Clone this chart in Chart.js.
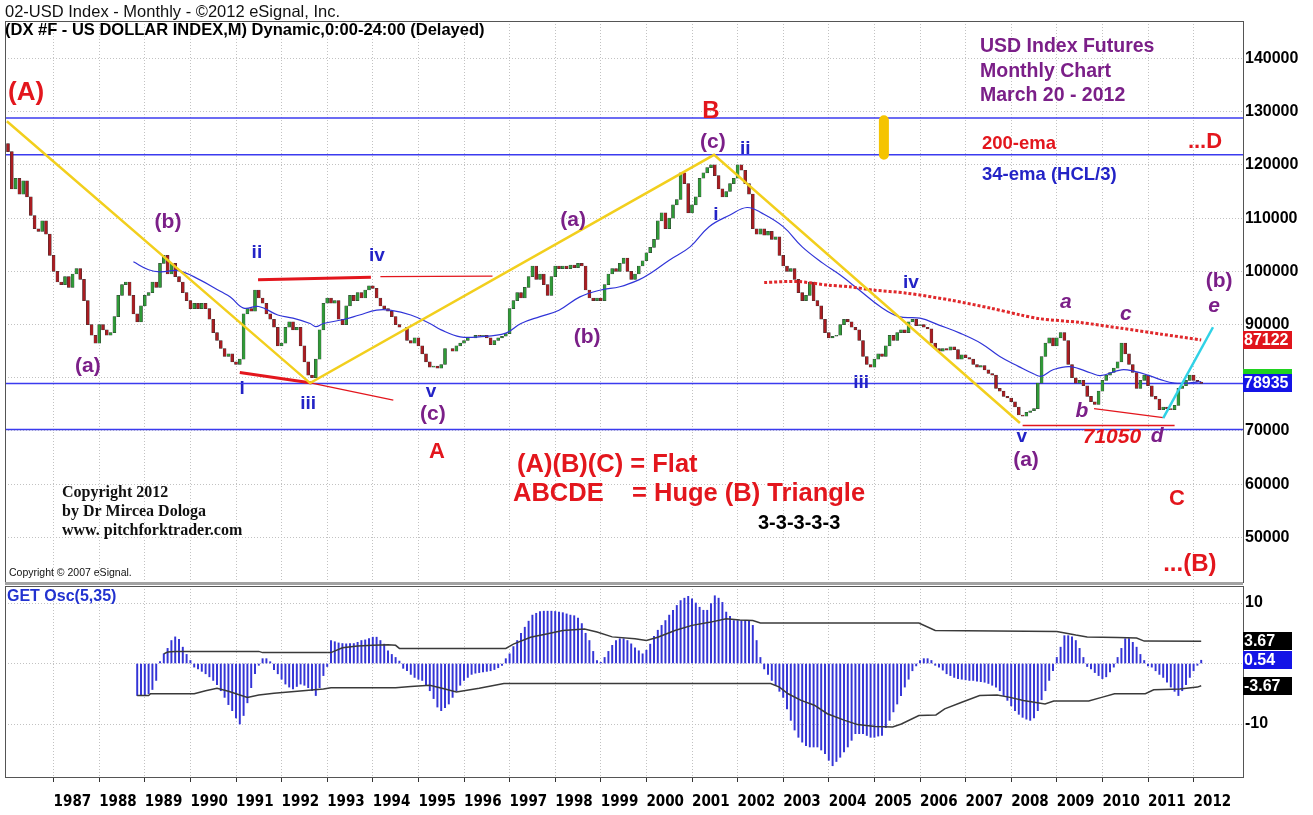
<!DOCTYPE html>
<html>
<head>
<meta charset="utf-8">
<script src="https://cdn.jsdelivr.net/npm/chart.js@4.4.1/dist/chart.umd.min.js"></script>
<style>
  html, body { margin: 0; padding: 0; background: #fff; }
  #marco { position: relative; width: 1313px; height: 815px; overflow: hidden; }
  canvas { position: absolute; left: 0; }
</style>
</head>
<body>
<div id="marco">
  <canvas id="precio" width="1313" height="585" style="top:0"></canvas>
  <canvas id="osc" width="1313" height="230" style="top:585px"></canvas>
</div>
<script>
// Canvas
const cPrecio = document.getElementById('precio');
const cOsc = document.getElementById('osc');

// Eje X: mes 0 = enero 1986
const anios = [1987, 1988, 1989, 1990, 1991, 1992, 1993, 1994, 1995, 1996, 1997, 1998, 1999,
               2000, 2001, 2002, 2003, 2004, 2005, 2006, 2007, 2008, 2009, 2010, 2011, 2012];
const ticksAnios = anios.map(a => (a - 1986) * 12);
const ticksPrecio = [50, 60, 70, 80, 90, 100, 110, 120, 130, 140];
const ticksOsc = [-10, 0, 10];

// Cierres mensuales (indice)
const aperturaInicial = 124.0;
const cierres = [
  122.5, 115.5, 117.5, 114.5, 117.0, 114.0, 110.5, 108.0, 107.5, 109.5, 107.0, 103.0, // 1986
  100.0, 98.0, 97.5, 99.0, 97.0, 99.5, 100.5, 98.5, 94.5, 90.0, 88.0, 86.5,           // 1987
  90.0, 89.0, 88.0, 88.5, 91.5, 95.5, 97.5, 98.0, 95.5, 92.0, 90.5, 93.5,             // 1988
  95.5, 96.0, 98.0, 97.0, 101.5, 103.0, 99.5, 101.5, 99.0, 98.0, 96.0, 94.5,          // 1989
  93.0, 94.0, 93.0, 94.0, 93.0, 91.0, 88.5, 87.0, 85.5, 84.0, 84.5, 83.0,             // 1990
  82.5, 83.5, 92.0, 93.0, 92.5, 96.5, 95.0, 94.0, 92.0, 91.0, 89.5, 86.0,             // 1991
  86.5, 89.5, 90.5, 89.0, 89.5, 86.0, 83.0, 80.5, 80.0, 83.5, 89.0, 94.0,             // 1992
  95.0, 94.0, 94.5, 91.0, 90.0, 93.5, 95.5, 94.5, 96.0, 95.0, 96.5, 97.3,             // 1993
  96.8, 95.0, 93.5, 93.0, 92.5, 91.5, 90.0, 89.5, 89.5, 87.0, 86.5, 87.5,             // 1994
  86.0, 84.5, 83.0, 82.0, 82.2, 81.8, 82.5, 85.5, 85.5, 85.0, 86.0, 86.5,             // 1995
  87.0, 87.5, 87.5, 88.0, 87.8, 88.0, 87.5, 86.2, 87.0, 87.5, 87.8, 88.3,             // 1996
  93.0, 94.5, 96.0, 95.0, 97.0, 99.0, 101.0, 98.5, 99.5, 97.5, 95.5, 99.0,            // 1997
  101.0, 100.5, 101.0, 100.5, 101.2, 100.7, 101.5, 101.0, 96.5, 95.0, 94.5, 95.0,     // 1998
  94.5, 97.5, 99.5, 100.5, 100.0, 101.5, 102.5, 100.0, 98.5, 99.5, 101.0, 102.0,      // 1999
  103.5, 104.5, 106.0, 109.5, 111.0, 108.0, 110.0, 112.5, 113.5, 118.5, 116.5, 111.0, // 2000
  112.5, 114.0, 117.5, 118.5, 119.5, 120.0, 118.0, 115.5, 114.0, 115.0, 116.5, 117.5, // 2001
  120.0, 119.0, 116.5, 114.5, 108.0, 107.0, 108.0, 106.8, 107.5, 106.0, 106.5, 103.0, // 2002
  101.0, 100.0, 100.5, 98.5, 96.0, 94.5, 95.5, 98.0, 94.5, 93.5, 91.0, 88.5,          // 2003
  87.5, 87.8, 88.0, 90.0, 91.0, 90.5, 89.5, 89.0, 87.0, 84.0, 82.5, 82.0,             // 2004
  83.5, 84.5, 84.0, 86.0, 88.0, 87.0, 88.5, 89.0, 88.5, 90.5, 91.0, 89.8,             // 2005
  90.0, 89.5, 89.2, 86.5, 85.5, 85.0, 85.5, 85.2, 85.8, 85.3, 83.5, 84.3,             // 2006
  83.8, 83.5, 82.5, 82.0, 82.3, 81.5, 80.8, 80.5, 78.0, 77.5, 76.5, 76.2,             // 2007
  75.5, 74.5, 73.0, 72.8, 73.5, 73.8, 74.2, 79.0, 84.0, 86.5, 87.5, 86.0,             // 2008
  87.5, 88.5, 87.0, 82.5, 80.0, 79.0, 79.5, 78.5, 76.5, 75.5, 75.0, 77.5,             // 2009
  79.5, 80.5, 81.0, 81.8, 83.0, 86.5, 84.5, 82.5, 81.0, 78.0, 79.5, 80.5,             // 2010
  78.5, 76.5, 76.0, 74.0, 74.5, 74.2, 74.0, 74.8, 78.0, 78.5, 79.5, 80.5,             // 2011
  79.5, 79.2, 78.935                                                                  // 2012
];

// 34-ema (HCL/3)
const emaMes = [33, 37, 40, 45, 50.5, 56, 58.5, 62, 66, 71, 75, 79.5, 81, 83, 88, 92.5, 97, 100.5,
  106, 111, 114, 119, 124, 131, 135, 140, 145, 150.5, 156, 161, 166, 169, 174, 179.5, 184.5, 190,
  194.5, 198.5, 204, 209, 214.5, 219, 224, 229.5, 234.5, 240, 245, 250.5, 256, 261, 266, 270, 272,
  275, 279.5, 285, 287.5, 293, 296.5, 300, 303.5, 307, 310.5, 314];
const emaValor = [101.8, 100.3, 99.9, 100.1, 98.4, 96.2, 95.2, 93.1, 93.4, 91.8, 91.2, 90.2, 89.6,
  90.2, 90.9, 91.8, 92.7, 92.7, 91.8, 90.2, 89.0, 87.7, 87.7, 88.4, 90.2, 91.5, 92.7, 95.2, 96.5,
  97.1, 98.4, 99.6, 102.1, 104.6, 108.4, 110.6, 112.0, 110.9, 108.4, 104.6, 101.5, 99.3, 96.5, 93.4,
  91.5, 91.2, 89.9, 88.4, 86.5, 84.0, 82.1, 80.7, 80.3, 81.5, 82.1, 80.9, 80.4, 81.5, 81.2, 80.5,
  79.6, 79.0, 79.0, 79.3];

// 200-ema
const ema200Mes = [199, 207.5, 216, 221.5, 227.5, 236.5, 248, 258.5, 266.5, 271.5, 282, 293, 303.5, 314];
const ema200Valor = [97.9, 98.1, 97.4, 97.1, 96.5, 95.9, 94.6, 93.1, 91.8, 91.1, 90.4, 89.3, 88.2, 87.1];

// Lineas horizontales azules
const nivelesAzules = [128.8, 121.9, 78.935, 70.3];

// Lineas amarillas (A)-B-C
const amarilloMes = [-0.3, 79.5, 185.8, 266.3];
const amarilloValor = [128.2, 79.0, 121.9, 71.5];
const capsulaMes = [230.5, 230.5];
const capsulaValor = [128.4, 121.9];

// Lineas rojas y cian
const rojaBajaMes = [61, 79.9], rojaBajaValor = [81.0, 79.0];
const rojaBajaFinaMes = [79.9, 101.4], rojaBajaFinaValor = [79.0, 75.8];
const rojaAltaMes = [65.8, 95.5], rojaAltaValor = [98.4, 98.9];
const rojaAltaFinaMes = [98, 127.5], rojaAltaFinaValor = [99.0, 99.1];
const rojaBDMes = [285.8, 304], rojaBDValor = [74.2, 72.5];
const roja71050Mes = [267, 307], roja71050Valor = [71.05, 71.05];
const cianMes = [304, 317.1], cianValor = [72.4, 89.5];

// GET Osc(5,35), desde el mes 34
const oscInicio = 34;
const oscValores = [
  -5.3, -5.3, -5.3, -5.0, -4.3, -2.8,
  0.3, 1.6, 2.5, 3.8, 4.4, 4.0, 2.7, 1.5, 0.5,
  -0.6, -0.9, -1.3, -1.7, -2.2, -2.8, -3.5, -4.5, -5.6, -6.8, -7.8, -9.0, -10.0, -8.6, -6.5, -4.0, -1.7, -0.3,
  0.8, 0.8, 0.3,
  -1.0, -1.7, -2.6, -3.4, -3.9, -4.2, -3.8, -3.4, -3.6, -4.0, -4.5, -5.3, -4.0, -2.0, -0.5,
  3.8, 3.6, 3.4, 3.3, 3.25, 3.3, 3.3, 3.5, 3.8, 3.9, 4.1, 4.35, 4.35, 3.8, 3.2, 2.1, 1.5, 1.0, 0.4,
  -0.8, -1.2, -1.8, -2.3, -2.6, -2.8, -3.6, -4.5, -5.8, -7.2, -7.8, -7.3, -6.7, -5.6, -4.5, -3.6,
  -2.8, -2.3, -1.8, -1.6, -1.5, -1.4, -1.3, -1.2, -1.0, -0.7, -0.3,
  0.8, 1.6, 2.8, 3.8, 5.0, 6.0, 7.0, 8.0, 8.3, 8.6, 8.65, 8.65, 8.65, 8.6, 8.5, 8.4, 8.2, 8.0, 7.9,
  7.5, 6.6, 5.0, 3.8, 2.0, 0.5, 0.2, 1.0, 2.0, 3.0, 3.8, 4.1, 4.1, 3.8, 3.25, 2.6, 2.1, 1.6, 2.2,
  3.2, 4.5, 5.5, 6.3, 7.1, 8.0, 8.8, 9.6, 10.4, 10.8, 11.1, 10.7, 10.0, 9.3, 8.8, 8.8, 9.9, 11.2,
  10.8, 10.1, 8.5, 7.8, 7.1, 7.1, 7.1, 7.1, 7.1, 6.3, 3.8, 1.0,
  -0.9, -1.8, -2.8, -3.6, -4.6, -5.6, -7.5, -9.4, -11.0, -12.2, -13.0, -13.6, -13.8, -13.8, -13.8,
  -14.3, -14.9, -16.0, -16.9, -16.2, -15.5, -14.6, -13.8, -12.7, -11.6, -11.6, -11.6, -11.9, -12.2,
  -12.2, -12.0, -11.9, -10.6, -9.4, -8.0, -6.7, -5.3, -3.9, -2.6, -1.2, -0.4,
  0.5, 0.8, 0.8, 0.5,
  -0.3, -0.6, -1.1, -1.7, -2.0, -2.3, -2.5, -2.6, -2.7, -2.8, -2.8, -2.9, -3.0, -3.1, -3.3, -3.6,
  -3.9, -4.5, -5.3, -6.1, -7.0, -7.8, -8.4, -8.9, -9.2, -9.4, -9.0, -7.8, -6.0, -4.5, -2.8, -1.2,
  1.0, 2.7, 4.6, 4.6, 4.4, 3.8, 2.5, 1.0,
  -0.5, -0.9, -1.5, -2.0, -2.5, -2.2, -1.4, -0.6,
  1.0, 2.5, 4.1, 4.1, 3.5, 2.7, 1.5, 0.5,
  -0.4, -0.6, -1.2, -1.8, -2.3, -3.1, -3.9, -4.6, -5.3, -4.5, -3.5, -2.3, -1.2, -0.3,
  0.54
];

// Bandas del oscilador
const bandaSupMes = [41, 42, 44, 66, 67, 85, 88, 92, 96, 100, 102, 103, 131, 133, 137.5, 142, 146,
  151.7, 155, 159, 165, 168, 171, 175.5, 180, 184.6, 189, 192.6, 196, 198, 239.7, 244, 276, 281,
  284, 292, 297, 299, 314];
const bandaSup = [1.6, 1.9, 2.0, 2.0, 1.8, 1.8, 2.6, 2.9, 3.0, 3.1, 3.0, 2.5, 2.5, 3.2, 4.35, 4.9,
  5.45, 5.7, 5.2, 4.4, 4.1, 3.8, 4.35, 5.45, 6.3, 6.8, 7.4, 7.2, 7.1, 6.7, 6.7, 5.45, 5.3, 4.7,
  4.4, 4.3, 4.2, 3.7, 3.67];
const bandaInfMes = [34, 37, 37.5, 49, 52, 55, 58, 63, 66, 70, 83, 85, 102, 106, 111, 115, 118, 124,
  130.5, 200.7, 203, 205.3, 208.7, 212.2, 215.6, 220.2, 223.6, 228.2, 232.8, 235.1, 239.7, 244.2,
  246.5, 251, 255.7, 260.3, 263.7, 267.2, 272.9, 275.2, 284.4, 287.8, 291.2, 299.3, 301.5, 308.4,
  313, 314];
const bandaInf = [-5.3, -5.3, -5.0, -5.0, -4.5, -4.1, -4.6, -5.6, -5.2, -4.9, -4.2, -4.0, -4.0, -3.8,
  -3.6, -4.2, -4.7, -4.1, -3.3, -3.3, -3.9, -5.0, -6.1, -6.9, -8.3, -9.4, -10.1, -10.4, -10.5,
  -10.0, -8.6, -8.5, -7.5, -6.4, -5.3, -5.2, -5.6, -6.1, -6.7, -6.2, -6.2, -5.6, -5.0, -5.0, -4.35,
  -4.2, -3.9, -3.67];

// Estilos
const F = '"Liberation Sans", Arial, sans-serif';
const FN = '"Liberation Sans Narrow", "DejaVu Sans Condensed", "Liberation Sans", sans-serif';
const rojo = '#e3161d', morado = '#7b1f88', azul = '#2323c6';
const gris = '#c2c2c2';
const xMin = -0.79, xMax = 325.0;

// Notas de ondas (mes, valor)
const notas = [
  ['(A)', 0, 133.5, rojo, 'bold 26px', 'left'],
  ['B', 185, 130.0, rojo, 'bold 24px'],
  ['(c)', 185.5, 124.3, morado, 'bold 21px'],
  ['ii', 194, 123.0, azul, 'bold 19px'],
  ['i', 186.3, 110.6, azul, 'bold 19px'],
  ['(b)', 42.1, 109.3, morado, 'bold 21px'],
  ['ii', 65.5, 103.5, azul, 'bold 19px'],
  ['iv', 97.1, 102.9, azul, 'bold 19px'],
  ['(a)', 148.7, 109.7, morado, 'bold 21px'],
  ['(b)', 152.4, 87.7, morado, 'bold 21px'],
  ['(a)', 21, 82.2, morado, 'bold 21px'],
  ['i', 61.6, 77.9, azul, 'bold 19px'],
  ['iii', 79, 75.1, azul, 'bold 19px'],
  ['v', 111.3, 77.3, azul, 'bold 19px'],
  ['(c)', 111.8, 73.2, morado, 'bold 21px'],
  ['A', 112.9, 66.1, rojo, 'bold 22px'],
  ['iv', 237.6, 97.8, azul, 'bold 19px'],
  ['iii', 224.5, 79.0, azul, 'bold 19px'],
  ['v', 266.8, 68.9, azul, 'bold 19px'],
  ['(a)', 267.9, 64.5, morado, 'bold 21px'],
  ['a', 278.4, 94.2, morado, 'italic bold 21px'],
  ['c', 294.2, 92.0, morado, 'italic bold 21px'],
  ['b', 282.6, 73.8, morado, 'italic bold 21px'],
  ['71050', 290.5, 68.9, rojo, 'italic bold 21px'],
  ['d', 302.4, 69.1, morado, 'italic bold 21px'],
  ['(b)', 318.7, 98.2, morado, 'bold 21px'],
  ['e', 317.4, 93.5, morado, 'italic bold 21px'],
  ['...D', 315, 124.3, rojo, 'bold 22px'],
  ['C', 307.6, 57.2, rojo, 'bold 22px'],
  ['...(B)', 311, 45.0, rojo, 'bold 24px']
];

// Textos fijos (pixeles)
const textos = [
  ['02-USD Index - Monthly - \u00a92012 eSignal, Inc.', 5, 12, '#111', '16.5px ' + F],
  ['(DX #F - US DOLLAR INDEX,M) Dynamic,0:00-24:00 (Delayed)', 5, 30, '#000', 'bold 16.5px ' + F],
  ['USD Index Futures', 980, 47, morado, 'bold 19.5px ' + F],
  ['Monthly Chart', 980, 72, morado, 'bold 19.5px ' + F],
  ['March 20 - 2012', 980, 96, morado, 'bold 19.5px ' + F],
  ['200-ema', 982, 144, rojo, 'bold 18.5px ' + F],
  ['34-ema (HCL/3)', 982, 175, azul, 'bold 18.5px ' + F],
  ['(A)(B)(C) = Flat', 517, 465, rojo, 'bold 25.5px ' + F],
  ['ABCDE    = Huge (B) Triangle', 513, 494, rojo, 'bold 25.5px ' + F],
  ['3-3-3-3-3', 758, 523, '#000', 'bold 20px ' + F],
  ['Copyright 2012', 62, 493, '#111', 'bold 16px "Liberation Serif", serif'],
  ['by Dr Mircea Dologa', 62, 512, '#111', 'bold 16px "Liberation Serif", serif'],
  ['www. pitchforktrader.com', 62, 531, '#111', 'bold 16px "Liberation Serif", serif'],
  ['Copyright \u00a9 2007 eSignal.', 9, 573, '#111', '10.5px ' + F]
];

// Velas (apertura = cierre anterior)
const velas = cierres.map((c, i) => ({ x: i, y: [i === 0 ? aperturaInicial : cierres[i - 1], c] }));
const coloresVelas = velas.map(v => v.y[1] >= v.y[0] ? '#2f9a37' : '#a91c21');

function linea(ms, vs, color, ancho, extra) {
  return Object.assign({
    type: 'line',
    data: ms.map((m, i) => ({ x: m, y: vs[i] })),
    borderColor: color,
    borderWidth: ancho,
    pointRadius: 0,
    fill: false,
    tension: 0
  }, extra || {});
}

function caja(ctx, y, texto, fondo) {
  ctx.fillStyle = fondo;
  ctx.fillRect(1243, Math.round(y) - 9, 49, 18);
  if (texto) {
    ctx.fillStyle = '#fff';
    ctx.font = 'bold 16px ' + F;
    ctx.textAlign = 'left';
    ctx.textBaseline = 'middle';
    ctx.fillText(texto, 1244, Math.round(y) + 1);
  }
}

function marcoPanel(chart) {
  const { ctx, chartArea: a } = chart;
  ctx.save();
  ctx.strokeStyle = '#555';
  ctx.lineWidth = 1;
  ctx.strokeRect(a.left + 0.5, a.top + 0.5, a.right - a.left, a.bottom - a.top);
  ctx.restore();
}

// Sin relleno extra de etiquetas en los ejes
function sinRelleno(s) {
  s.paddingTop = 0; s.paddingBottom = 0; s.paddingLeft = 0; s.paddingRight = 0;
}

const ejeX = {
  type: 'linear', min: xMin, max: xMax, offset: false,
  grid: { color: gris, drawTicks: false, offset: false },
  border: { display: false, dash: [1, 2] },
  ticks: { display: false },
  afterBuildTicks: s => { s.ticks = ticksAnios.map(v => ({ value: v })); },
  afterFit: s => { s.height = 0; sinRelleno(s); }
};

// Grafica de precio
new Chart(cPrecio, {
  type: 'bar',
  data: {
    datasets: [
      linea(amarilloMes, amarilloValor, '#f2cf1d', 2.5, { order: 1 }),
      linea(capsulaMes, capsulaValor, '#f5c400', 10, { order: 1, borderCapStyle: 'round' }),
      linea(cianMes, cianValor, '#30d2e6', 2.5, { order: 1 }),
      linea(rojaBajaMes, rojaBajaValor, rojo, 3, { order: 2 }),
      linea(rojaBajaFinaMes, rojaBajaFinaValor, rojo, 1.2, { order: 2 }),
      linea(rojaAltaMes, rojaAltaValor, rojo, 3, { order: 2 }),
      linea(rojaAltaFinaMes, rojaAltaFinaValor, rojo, 1.2, { order: 2 }),
      linea(rojaBDMes, rojaBDValor, rojo, 1.2, { order: 2 }),
      linea(roja71050Mes, roja71050Valor, rojo, 1.5, { order: 2 }),
      linea(ema200Mes, ema200Valor, '#e0282b', 3, { order: 3, borderDash: [3, 2], tension: 0.3 }),
      linea(emaMes, emaValor, '#3034d8', 1.2, { order: 3, tension: 0.4 }),
      {
        type: 'bar',
        data: velas,
        backgroundColor: coloresVelas,
        borderColor: '#333',
        borderWidth: 0.5,
        borderSkipped: false,
        barThickness: 3,
        order: 5
      },
      ...nivelesAzules.map(n => linea([xMin, xMax], [n, n], '#3b3bef', 1.5, { order: 6 }))
    ]
  },
  options: {
    responsive: false,
    animation: false,
    layout: { padding: { top: 21, left: 5, right: 0, bottom: 3 } },
    plugins: { legend: { display: false }, tooltip: { enabled: false } },
    scales: {
      x: ejeX,
      y: {
        position: 'right', min: 41.62, max: 147.05,
        grid: { color: gris, drawTicks: false },
        border: { display: true, color: '#222', dash: [1, 2] },
        ticks: {
          color: '#000', padding: 2,
          font: { family: F, size: 16, weight: 'bold' },
          callback: v => String(v * 1000)
        },
        afterBuildTicks: s => { s.ticks = ticksPrecio.map(v => ({ value: v })); },
        afterFit: s => { s.width = 70; sinRelleno(s); }
      }
    }
  },
  plugins: [{
    id: 'notasPrecio',
    afterDatasetsDraw(chart) {
      const { ctx, scales: { x, y } } = chart;
      ctx.save();
      ctx.textBaseline = 'middle';
      notas.forEach(n => {
        ctx.font = n[4] + ' ' + F;
        ctx.fillStyle = n[3];
        ctx.textAlign = n[5] || 'center';
        ctx.fillText(n[0], x.getPixelForValue(n[1]), y.getPixelForValue(n[2]));
      });
      ctx.restore();
    },
    afterDraw(chart) {
      const { ctx, scales: { y } } = chart;
      marcoPanel(chart);
      ctx.save();
      ctx.fillStyle = '#a3a3a3';
      ctx.fillRect(5, 582, 1238, 3);
      ctx.textBaseline = 'middle';
      ctx.textAlign = 'left';
      textos.forEach(t => {
        ctx.font = t[4];
        ctx.fillStyle = t[3];
        ctx.fillText(t[0], t[1], t[2]);
      });
      caja(ctx, y.getPixelForValue(87.122), '87122', '#e0141c');
      caja(ctx, y.getPixelForValue(80.0), '', '#1fd21f');
      caja(ctx, y.getPixelForValue(78.935), '78935', '#1414e6');
      ctx.restore();
    }
  }]
});

// Oscilador
new Chart(cOsc, {
  type: 'bar',
  data: {
    datasets: [
      linea(bandaSupMes, bandaSup, '#3a3a3a', 1.5, { order: 1 }),
      linea(bandaInfMes, bandaInf, '#3a3a3a', 1.5, { order: 1 }),
      {
        type: 'bar',
        data: oscValores.map((v, i) => ({ x: oscInicio + i, y: v })),
        backgroundColor: '#3434d6',
        barThickness: 1.3,
        order: 2
      }
    ]
  },
  options: {
    responsive: false,
    animation: false,
    layout: { padding: { top: 1, left: 5, right: 0, bottom: 0 } },
    plugins: { legend: { display: false }, tooltip: { enabled: false } },
    scales: {
      x: {
        type: 'linear', min: xMin, max: xMax, offset: false,
        grid: { color: gris, tickColor: '#333', tickLength: 5, offset: false },
        border: { display: true, color: '#333', dash: [1, 2] },
        ticks: {
          align: 'start', padding: 11, color: '#000', maxRotation: 0, autoSkip: false,
          font: { family: FN, size: 15, weight: 'bold' },
          callback: v => String(1986 + v / 12)
        },
        afterBuildTicks: s => { s.ticks = ticksAnios.map(v => ({ value: v })); },
        afterFit: s => { s.height = 38; sinRelleno(s); }
      },
      y: {
        position: 'right', min: -18.76, max: 12.81,
        grid: { color: gris, drawTicks: false },
        border: { display: true, color: '#222', dash: [1, 2] },
        ticks: {
          color: '#000', padding: 2,
          font: { family: F, size: 16, weight: 'bold' },
          callback: v => v === 0 ? '' : String(v)
        },
        afterBuildTicks: s => { s.ticks = ticksOsc.map(v => ({ value: v })); },
        afterFit: s => { s.width = 70; sinRelleno(s); }
      }
    }
  },
  plugins: [{
    id: 'notasOsc',
    afterDraw(chart) {
      const { ctx, scales: { y } } = chart;
      marcoPanel(chart);
      ctx.save();
      ctx.font = 'bold 16px ' + F;
      ctx.fillStyle = '#2232d0';
      ctx.textAlign = 'left';
      ctx.textBaseline = 'middle';
      ctx.fillText('GET Osc(5,35)', 7, 12);
      caja(ctx, y.getPixelForValue(3.67), '3.67', '#000');
      caja(ctx, y.getPixelForValue(0.54), '0.54', '#1414e6');
      caja(ctx, y.getPixelForValue(-3.67), '-3.67', '#000');
      ctx.restore();
    }
  }]
});
</script>
</body>
</html>
